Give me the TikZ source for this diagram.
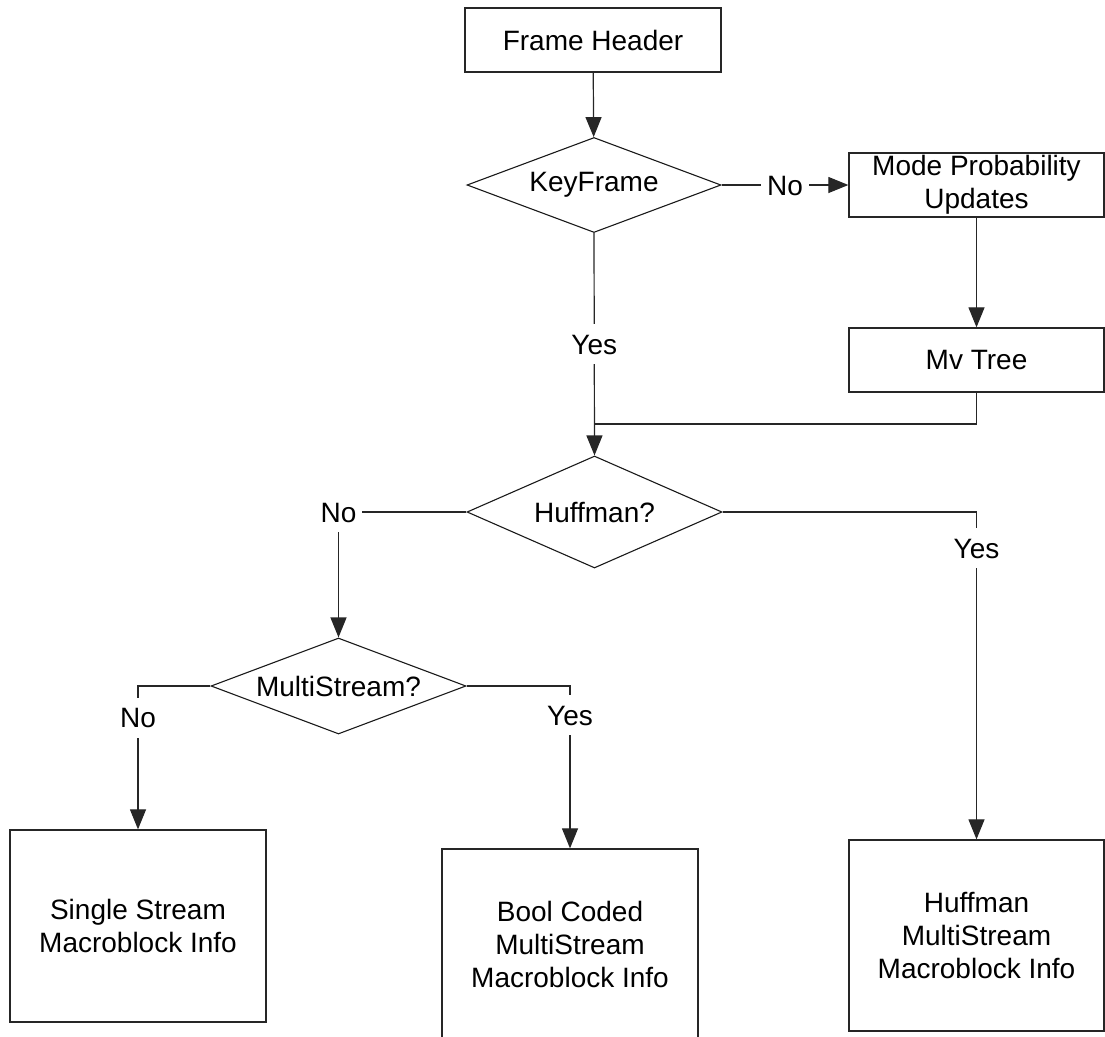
\documentclass[tikz,border=0pt]{standalone}
\usepackage{fontspec}
\setmainfont{Liberation Sans}
\usetikzlibrary{shapes.geometric,arrows.meta}

\begin{document}
\begin{tikzpicture}[
  x=1pt, y=-1pt,
  font=\fontsize{28}{33}\selectfont,
  box/.style={draw=black!85, line width=1.3pt, rectangle, inner sep=0pt, align=center},
  decide/.style={draw=black!90, line width=1.1pt, diamond, inner sep=0pt, align=center},
  link/.style={draw=black!85, line width=1.2pt},
  arr/.style={link, -{Triangle[length=20pt,width=16pt]}},
  lbl/.style={fill=white, inner xsep=6pt, inner ysep=10pt, text height=20pt, text depth=0pt}
]
\useasboundingbox (0,0) rectangle (1105,1036);

% decision chain
\node[box, minimum width=256pt, minimum height=64pt] (fh) at (593,40) {Frame Header};
\node[decide, shape aspect=2.67, minimum width=254pt, minimum height=95pt] (kf) at (594,185) {KeyFrame};
\node[box, minimum width=255pt, minimum height=64pt] (mode) at (976.5,185) {Mode Probability\\Updates};
\node[box, minimum width=255pt, minimum height=64pt] (mv) at (976.5,360) {Mv Tree};
\node[decide, shape aspect=2.28, minimum width=255pt, minimum height=112pt] (huff) at (594.5,512) {Huffman?};
\node[decide, shape aspect=2.66, minimum width=255pt, minimum height=96pt] (ms) at (338.5,686) {MultiStream?};

% macroblock info variants
\node[box, minimum width=256pt, minimum height=192pt] (ss) at (138,926) {Single Stream\\Macroblock Info};
\node[box, minimum width=256pt, minimum height=190pt] (bc) at (570,944) {Bool Coded\\MultiStream\\Macroblock Info};
\node[box, minimum width=255pt, minimum height=191pt] (hm) at (976.5,935.5) {Huffman\\MultiStream\\Macroblock Info};

\coordinate (join) at (594.5,424);

% connectors
\draw[arr] (fh) -- (kf);
\draw[arr] (kf.east) -- node[lbl]{No} (mode.west);
\draw[arr] (mode) -- (mv);
\draw[arr] (kf.south) -- node[lbl]{Yes} (huff.north);
\draw[link] (mv.south) |- (join);
\draw[arr] (huff.west) -| node[lbl]{No} (ms.north);
\draw[arr] (huff.east) -| node[lbl, pos=0.555]{Yes} (hm.north);
\draw[arr] (ms.west) -| node[lbl, pos=0.61]{No} (ss.north);
\draw[arr] (ms.east) -| node[lbl, pos=0.59]{Yes} (bc.north);
\end{tikzpicture}
\end{document}
